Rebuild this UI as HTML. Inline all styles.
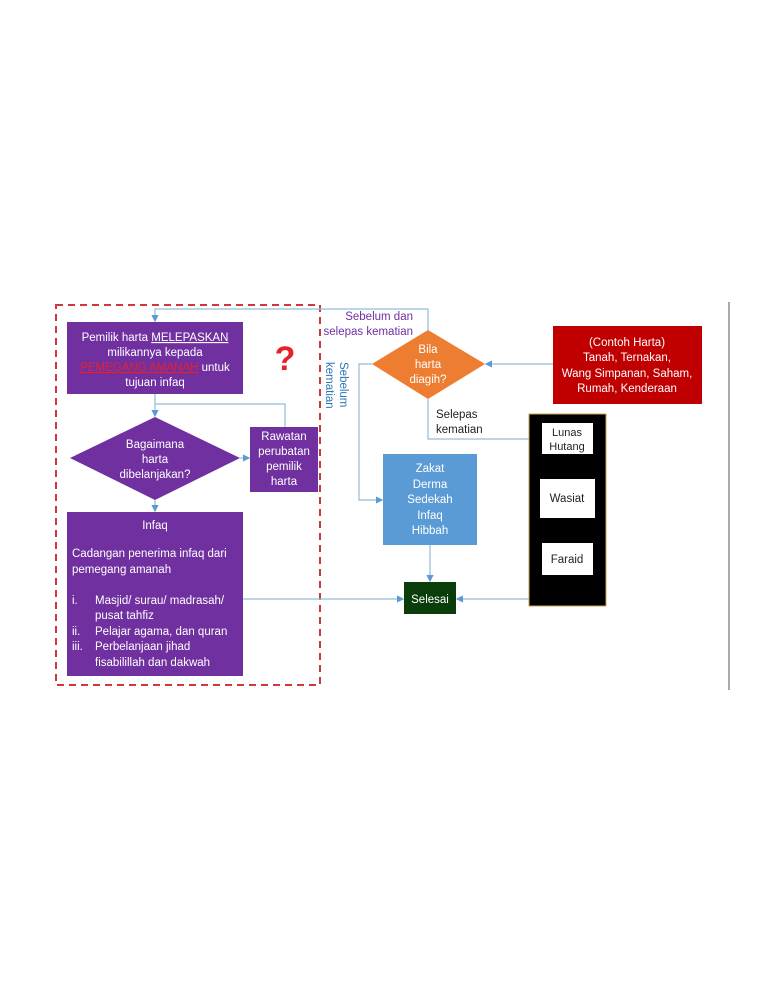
<!DOCTYPE html>
<html><head><meta charset="utf-8"><style>
html,body{margin:0;padding:0;background:#fff;width:768px;height:994px;overflow:hidden}
svg{display:block}
text{font-family:"Liberation Sans",sans-serif}
</style></head><body>
<svg width="768" height="994" viewBox="0 0 768 994" xmlns="http://www.w3.org/2000/svg">
<defs><marker id="a" markerWidth="6" markerHeight="6" refX="5" refY="3" orient="auto"><path d="M0,0 L6,3 L0,6z" fill="#5b9bd5"/></marker></defs>
<line x1="729" y1="302" x2="729" y2="690" stroke="#555" stroke-width="1"/>
<rect x="56" y="305" width="264" height="380" fill="none" stroke="#d0393b" stroke-width="2" stroke-dasharray="7,5"/>
<g stroke="#8fbfd8" stroke-width="1.2" fill="none">
<polyline points="428,330 428,309 155,309 155,321" marker-end="url(#a)"/>
<polyline points="155,394 155,416" marker-end="url(#a)"/>
<polyline points="155,404 285,404 285,427"/>
<polyline points="240,458 249,458" marker-end="url(#a)"/>
<polyline points="155,500 155,511" marker-end="url(#a)"/>
<polyline points="243,599 403,599" marker-end="url(#a)"/>
<polyline points="553,364 486,364" marker-end="url(#a)"/>
<polyline points="372,364 359,364 359,500 382,500" marker-end="url(#a)"/>
<polyline points="428,399 428,439 540,439" marker-end="url(#a)"/>
<polyline points="430,545 430,581" marker-end="url(#a)"/>
<polyline points="567,575 567,599 457,599" marker-end="url(#a)"/>
</g>
<rect x="67" y="322" width="176" height="72" fill="#7030a0"/>
<text fill="#fff" font-size="11.5" text-anchor="middle"><tspan x="155" y="341">Pemilik harta <tspan text-decoration="underline">MELEPASKAN</tspan></tspan><tspan x="155" y="356">milikannya kepada</tspan><tspan x="155" y="371"><tspan fill="#e8202a" text-decoration="underline">PEMEGANG AMANAH</tspan> untuk</tspan><tspan x="155" y="386">tujuan infaq</tspan></text>
<text x="285" y="370" fill="#e8202a" font-size="34" font-weight="bold" text-anchor="middle">?</text>
<polygon points="70,458 155,417 240,458 155,500" fill="#7030a0"/>
<text fill="#fff" font-size="11.5" text-anchor="middle"><tspan x="155" y="448">Bagaimana</tspan><tspan x="155" y="463">harta</tspan><tspan x="155" y="478">dibelanjakan?</tspan></text>
<rect x="250" y="427" width="68" height="65" fill="#7030a0"/>
<text fill="#fff" font-size="11.5" text-anchor="middle"><tspan x="284" y="440">Rawatan</tspan><tspan x="284" y="455">perubatan</tspan><tspan x="284" y="470">pemilik</tspan><tspan x="284" y="485">harta</tspan></text>
<rect x="67" y="512" width="176" height="164" fill="#7030a0"/>
<text fill="#fff" font-size="11.5"><tspan x="155" y="529" text-anchor="middle">Infaq</tspan><tspan x="72" y="557">Cadangan penerima infaq dari</tspan><tspan x="72" y="573">pemegang amanah</tspan><tspan x="72" y="604">i.</tspan><tspan x="95" y="604">Masjid/ surau/ madrasah/</tspan><tspan x="95" y="619">pusat tahfiz</tspan><tspan x="72" y="635">ii.</tspan><tspan x="95" y="635">Pelajar agama, dan quran</tspan><tspan x="72" y="650">iii.</tspan><tspan x="95" y="650">Perbelanjaan jihad</tspan><tspan x="95" y="666">fisabilillah dan dakwah</tspan></text>
<text fill="#7030a0" font-size="11.5" text-anchor="end"><tspan x="413" y="320">Sebelum dan</tspan><tspan x="413" y="335">selepas kematian</tspan></text>
<text transform="translate(340,362) rotate(90)" fill="#2e75b6" font-size="11.5"><tspan x="0" y="0">Sebelum</tspan><tspan x="0" y="14">kematian</tspan></text>
<polygon points="372,364 428,330 485,364 428,399" fill="#ed7d31"/>
<text fill="#fff" font-size="11.5" text-anchor="middle"><tspan x="428" y="353">Bila</tspan><tspan x="428" y="368">harta</tspan><tspan x="428" y="383">diagih?</tspan></text>
<rect x="553" y="326" width="149" height="78" fill="#c00000"/>
<text fill="#fff" font-size="11.5" text-anchor="middle"><tspan x="627" y="346">(Contoh Harta)</tspan><tspan x="627" y="361">Tanah, Ternakan,</tspan><tspan x="627" y="377">Wang Simpanan, Saham,</tspan><tspan x="627" y="392">Rumah, Kenderaan</tspan></text>
<text fill="#222" font-size="11.5"><tspan x="436" y="418">Selepas</tspan><tspan x="436" y="433">kematian</tspan></text>
<rect x="529" y="414" width="77" height="192" fill="#000" stroke="#c9a64a" stroke-width="1"/>
<rect x="542" y="423" width="51" height="31" fill="#fff"/>
<text fill="#222" font-size="11" text-anchor="middle"><tspan x="567" y="436">Lunas</tspan><tspan x="567" y="450">Hutang</tspan></text>
<rect x="540" y="479" width="55" height="39" fill="#fff"/>
<text x="567" y="502" fill="#222" font-size="11.5" text-anchor="middle">Wasiat</text>
<rect x="542" y="543" width="51" height="32" fill="#fff"/>
<text x="567" y="563" fill="#222" font-size="11.5" text-anchor="middle">Faraid</text>
<rect x="383" y="454" width="94" height="91" fill="#5b9bd5"/>
<text fill="#fff" font-size="11.5" text-anchor="middle"><tspan x="430" y="472">Zakat</tspan><tspan x="430" y="488">Derma</tspan><tspan x="430" y="503">Sedekah</tspan><tspan x="430" y="519">Infaq</tspan><tspan x="430" y="534">Hibbah</tspan></text>
<rect x="404" y="582" width="52" height="32" fill="#0b3d0b"/>
<text x="430" y="603" fill="#fff" font-size="11.5" text-anchor="middle">Selesai</text>
</svg>
</body></html>
